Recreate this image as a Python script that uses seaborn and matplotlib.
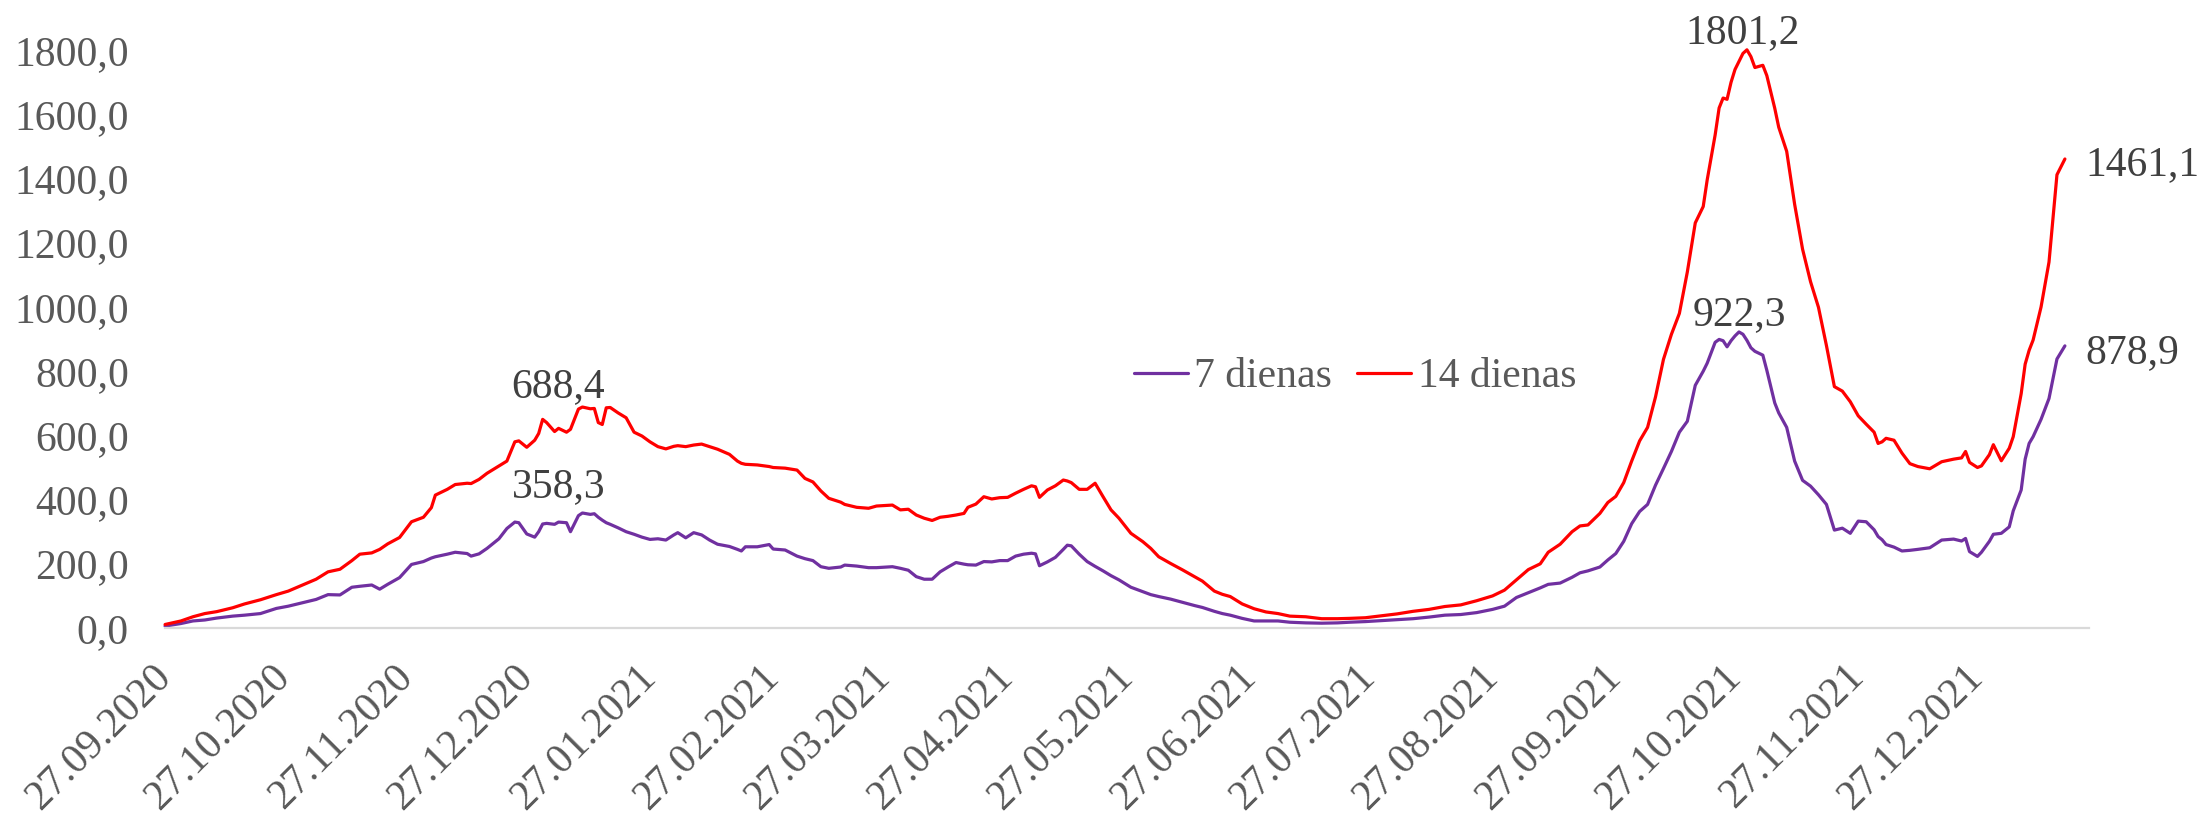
import matplotlib
matplotlib.use('Agg')
import matplotlib.pyplot as plt
import matplotlib.dates as mdates
from matplotlib.ticker import FuncFormatter
import pandas as pd
import seaborn as sns

# days counted from the first date on the chart
start_date = "2020-09-27"
day = [0, 4, 7, 10, 13, 17, 20, 24, 28, 31, 34, 38, 41, 44, 47, 49, 52, 54, 56, 59,
       62, 65, 67, 68, 71, 73, 76, 77, 79, 81, 84, 86, 88, 89, 91, 93, 94, 95, 96, 98,
       99, 101, 102, 104, 105, 107, 108, 109, 110, 111, 112, 114, 116, 118, 120, 122, 124, 126, 128, 129,
       131, 133, 135, 137, 139, 142, 144, 145, 146, 149, 152, 153, 156, 159, 161, 163, 165, 167, 170, 171,
       174, 177, 179, 183, 185, 187, 189, 191, 193, 195, 197, 199, 201, 202, 204, 206, 208, 210, 212, 214,
       216, 218, 219, 220, 222, 224, 226, 227, 228, 230, 232, 234, 236, 238, 240, 243, 246, 248, 250, 253,
       256, 259, 261, 264, 266, 268, 271, 274, 277, 280, 283, 287, 291, 295, 298, 302, 306, 310, 314, 318,
       322, 326, 330, 334, 337, 340, 343, 346, 348, 351, 354, 356, 358, 361, 363, 365, 367, 369, 371, 373,
       375, 377, 379, 381, 383, 385, 387, 388, 390, 391, 392, 393, 394, 395, 396, 397, 398, 399, 400, 402,
       403, 405, 406, 408, 410, 412, 414, 416, 418, 420, 422, 424, 426, 428, 430, 431, 432, 433, 435, 437,
       439, 441, 444, 447, 450, 452, 453, 454, 456, 457, 459, 460, 462, 464, 465, 467, 468, 469, 470, 472,
       474, 476, 478]

days14 = [11, 22, 35, 45, 51, 63, 75, 88, 104, 115, 131, 152, 175, 183, 210, 230, 234, 245, 262, 282,
          331, 345, 375, 414, 432, 447, 451, 450, 463, 482, 505, 520, 580, 583, 563, 585, 606, 650, 640, 612,
          622, 610, 619, 682, 688.4, 683, 684, 640, 634, 686, 687, 670, 655, 610, 598, 580, 565, 558, 566, 568,
          565, 570, 573, 565, 557, 541, 520, 513, 510, 508, 503, 500, 498, 492, 466, 455, 427, 404, 392, 385,
          376, 373, 380, 383, 368, 370, 352, 342, 335, 345, 348, 352, 357, 376, 386, 409, 402, 406, 407, 420,
          432, 443, 440, 407, 430, 443, 461, 458, 453, 432, 432, 451, 409, 368, 342, 295, 269, 248, 222, 201,
          181, 160, 146, 115, 105, 98, 75, 60, 50, 45, 37, 35, 29, 29, 30, 32, 38, 44, 52, 58,
          67, 72, 85, 100, 118, 150, 182, 200, 236, 261, 300, 318, 321, 357, 391, 410, 453, 520, 583, 625,
          720, 837, 915, 980, 1109, 1262, 1313, 1396, 1536, 1620, 1651, 1647, 1700, 1740, 1765, 1790, 1801.2, 1780, 1746, 1753,
          1721, 1619, 1560, 1485, 1320, 1180, 1079, 999, 880, 752, 738, 705, 661, 635, 610, 575, 580, 591, 585, 545,
          512, 503, 496, 518, 526, 530, 550, 516, 500, 505, 540, 571, 521, 560, 596, 730, 822, 865, 897, 1000,
          1140, 1412, 1461.1]

days7 = [6, 14, 22, 25, 31, 37, 40, 45, 61, 68, 77, 89, 104, 103, 127, 130, 134, 121, 136, 157,
         198, 207, 218, 222, 230, 236, 232, 224, 231, 248, 278, 310, 330, 328, 293, 283, 300, 324, 326, 323,
         330, 328, 300, 350, 358.3, 354, 356, 345, 336, 328, 323, 312, 300, 292, 283, 276, 278, 274, 290, 297,
         281, 297, 290, 274, 261, 254, 245, 240, 253, 253, 260, 246, 243, 224, 216, 210, 191, 186, 190, 196,
         193, 188, 188, 191, 186, 180, 160, 152, 152, 175, 190, 204, 199, 197, 196, 207, 206, 210, 210, 224,
         230, 233, 231, 194, 206, 220, 245, 258, 256, 230, 207, 192, 178, 163, 150, 127, 113, 104, 98, 90,
         80, 70, 64, 52, 45, 40, 30, 22, 22, 22, 18, 16, 15, 16, 18, 20, 23, 26, 29, 34,
         40, 42, 48, 58, 68, 95, 110, 125, 136, 140, 158, 172, 178, 190, 212, 232, 270, 325, 363, 385,
         445, 497, 550, 610, 644, 756, 800, 825, 890, 899, 895, 876, 895, 910, 922.3, 915, 896, 873, 862, 850,
         803, 701, 670, 625, 520, 460, 442, 415, 385, 305, 311, 295, 333, 331, 306, 285, 275, 260, 252, 240,
         242, 245, 250, 274, 277, 271, 279, 238, 223, 236, 270, 292, 295, 315, 365, 430, 526, 575, 596, 650,
         715, 838, 878.9]

series_names = ["7 dienas", "14 dienas"]
peak_labels = ["688,4", "358,3", "1801,2", "922,3", "1461,1", "878,9"]

dates = pd.Timestamp(start_date) + pd.to_timedelta(day, unit="D")
df = pd.concat([
    pd.DataFrame({"date": dates, "value": days7, "series": series_names[0]}),
    pd.DataFrame({"date": dates, "value": days14, "series": series_names[1]}),
])

sns.set_style("white")
plt.rcParams["font.family"] = ["Liberation Serif", "DejaVu Serif"]
text_gray = "#595959"
label_gray = "#404040"
axis_gray = "#D9D9D9"
fs = 30

fig = plt.figure(figsize=(22.01, 8.19), dpi=100)
ax = fig.add_axes([0.075, 0.2332, 0.874, 0.7055])

sns.lineplot(data=df, x="date", y="value", hue="series",
             palette={"7 dienas": "#7030A0", "14 dienas": "#FF0000"},
             linewidth=2.3, ax=ax)
for line in ax.lines:
    line.set_clip_on(False)

x0 = pd.Timestamp(start_date)
ax.set_xlim(x0, x0 + pd.Timedelta(days=484))
ax.set_ylim(0, 1800)
ax.set_yticks(range(0, 1801, 200))
ax.yaxis.set_major_formatter(FuncFormatter(lambda v, p: f"{v:.1f}".replace(".", ",")))

ticks = pd.date_range(start_date, "2021-12-27", freq=pd.DateOffset(months=1))
ax.set_xticks(ticks)
ax.xaxis.set_major_formatter(mdates.DateFormatter("%d.%m.%Y"))
ax.set_xlabel("")
ax.set_ylabel("")

for s in ["top", "right", "left"]:
    ax.spines[s].set_visible(False)
ax.spines["bottom"].set_color(axis_gray)
ax.spines["bottom"].set_linewidth(1.6)

ax.tick_params(axis="y", length=0, pad=26, labelsize=fs, labelcolor=text_gray)
ax.tick_params(axis="x", direction="out", length=8, width=1.6, color=axis_gray,
               pad=23, labelsize=fs, labelcolor=text_gray)
for lbl in ax.get_xticklabels():
    lbl.set_rotation(45)
    lbl.set_rotation_mode("anchor")
    lbl.set_ha("right")
    lbl.set_va("center")

handles, labels = ax.get_legend_handles_labels()
leg = ax.legend(handles, labels, loc="center left", bbox_to_anchor=(0.5036, 0.434),
                ncol=2, frameon=False, fontsize=fs, handlelength=1.3, handletextpad=0.15,
                columnspacing=0.6, borderpad=0, borderaxespad=0)
for t in leg.get_texts():
    t.set_color(text_gray)
for h in leg.get_lines():
    h.set_linewidth(2.3)

def at(d):
    return x0 + pd.Timedelta(days=d)

ax.text(at(99), 720, peak_labels[0], ha="center", va="baseline", fontsize=fs, color=label_gray)
ax.text(at(99), 409, peak_labels[1], ha="center", va="baseline", fontsize=fs, color=label_gray)
ax.text(at(397), 1823, peak_labels[2], ha="center", va="baseline", fontsize=fs, color=label_gray)
ax.text(at(396), 943, peak_labels[3], ha="center", va="baseline", fontsize=fs, color=label_gray)
ax.text(at(483.2), 1412, peak_labels[4], ha="left", va="baseline", fontsize=fs, color=label_gray)
ax.text(at(483.2), 825, peak_labels[5], ha="left", va="baseline", fontsize=fs, color=label_gray)

fig.savefig("out.png", dpi=100)
plt.close(fig)
